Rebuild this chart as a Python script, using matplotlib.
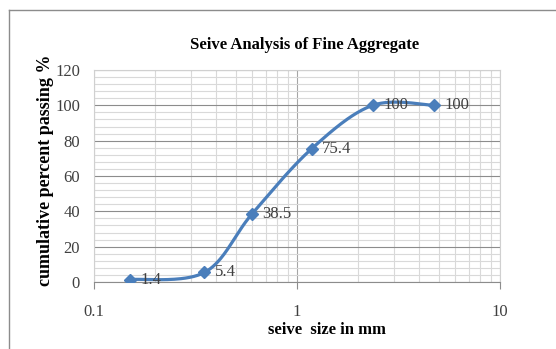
import numpy as np
import matplotlib
matplotlib.use("Agg")
import matplotlib.pyplot as plt
from matplotlib.ticker import FixedLocator, NullFormatter, FuncFormatter

sieve_mm = [0.15, 0.35, 0.6, 1.18, 2.36, 4.75]
passing = [1.4, 5.4, 38.5, 75.4, 100, 100]
point_labels = ["1.4", "5.4", "38.5", "75.4", "100", "100"]
title = "Seive Analysis of Fine Aggregate"
xlabel = "seive  size in mm"
ylabel = "cumulative percent passing %"

plt.rcParams['font.family'] = ['Liberation Serif', 'DejaVu Serif']

fig = plt.figure(figsize=(5.56, 3.49), dpi=100)
ax = fig.add_axes([94/556, 1-282/349, (500-94)/556, (282-70)/349])

# Catmull-Rom smoothing in (log10 x, y) space (like Excel's smoothed line)
lx = np.log10(np.array(sieve_mm))
yy = np.array(passing, dtype=float)
P = np.column_stack([lx, yy])
Pext = np.vstack([P[0], P, P[-1]])
curve = []
t = np.linspace(0, 1, 40)
for i in range(1, len(Pext) - 2):
    p0, p1, p2, p3 = Pext[i-1], Pext[i], Pext[i+1], Pext[i+2]
    c1 = p1 + (p2 - p0) / 6
    c2 = p2 - (p3 - p1) / 6
    seg = ((1-t)**3)[:, None]*p1 + (3*(1-t)**2*t)[:, None]*c1 + (3*(1-t)*t**2)[:, None]*c2 + (t**3)[:, None]*p2
    curve.append(seg)
curve = np.vstack(curve)

ax.set_xscale('log')
ax.set_xlim(0.1, 10)
ax.set_ylim(0, 120)

blue = '#4a7ebb'
ax.plot(10**curve[:, 0], curve[:, 1], color=blue, lw=2.3, zorder=3, solid_capstyle='round')
ax.plot(sieve_mm, passing, linestyle='none', marker='D', ms=6.3, color=blue, zorder=4)

for xv, yv, lab in zip(sieve_mm, passing, point_labels):
    ax.annotate(lab, (xv, yv), xytext=(7.5, 0), textcoords='offset points',
                ha='left', va='center', fontsize=12, color='#404040', zorder=5)

# grid
ax.set_yticks(np.arange(0, 121, 20))
ax.yaxis.set_minor_locator(FixedLocator(np.arange(0, 121, 4)))
ax.xaxis.set_major_locator(FixedLocator([0.1, 1, 10]))
minors = [m * d for d in (0.1, 1) for m in range(2, 10)]
ax.xaxis.set_minor_locator(FixedLocator(minors))
ax.xaxis.set_minor_formatter(NullFormatter())
ax.xaxis.set_major_formatter(FuncFormatter(lambda v, p: {0.1: "0.1", 1: "1", 10: "10"}.get(round(v, 3), "")))

ax.grid(which='minor', axis='both', color='#d9d9d9', lw=0.8, zorder=0)
ax.grid(which='major', axis='y', color='#8c8c8c', lw=0.8, zorder=1)
ax.grid(which='major', axis='x', color='#a6a6a6', lw=0.8, zorder=1)
ax.set_axisbelow(True)

for s in ['top', 'right', 'left']:
    ax.spines[s].set_color('#d0d0d0')
    ax.spines[s].set_linewidth(0.8)
ax.spines['bottom'].set_color('#8c8c8c')
ax.spines['bottom'].set_linewidth(0.8)

ax.tick_params(axis='x', which='major', length=5, color='#8c8c8c', labelsize=12, labelcolor='#404040', pad=11)
ax.tick_params(axis='x', which='minor', length=0)
ax.tick_params(axis='y', which='both', length=0, labelsize=12, labelcolor='#404040', pad=10)

fig.text(305/556, 1-45/349, title, ha='center', va='center', fontsize=12, fontweight='bold', color='black')
fig.text(327/556, 1-330/349, xlabel, ha='center', va='center', fontsize=12, fontweight='bold', color='black')
fig.text(46/556, 1-170/349, ylabel, ha='center', va='center', rotation=90, fontsize=13, fontweight='bold', color='black')

# figure border (chart area frame)
fig.add_artist(plt.Line2D([9/556, 9/556], [0, 1-10/349], transform=fig.transFigure, color='#8c8c8c', lw=1))
fig.add_artist(plt.Line2D([9/556, 1], [1-10/349, 1-10/349], transform=fig.transFigure, color='#8c8c8c', lw=1))

fig.savefig('out.png', dpi=100)
